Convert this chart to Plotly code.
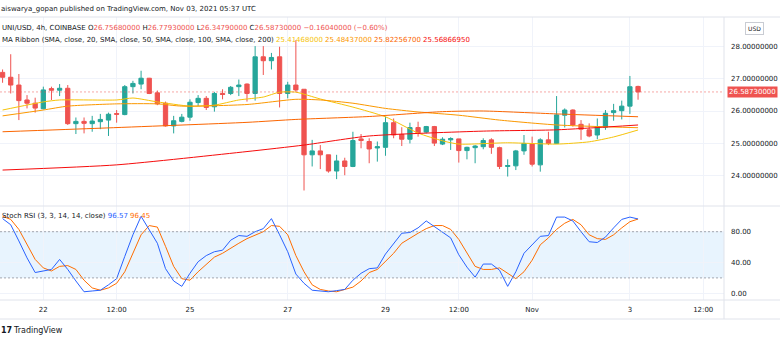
import pandas as pd
import plotly.graph_objects as go
from plotly.subplots import make_subplots

# ---------------- data ----------------
start_time = "2021-10-21 04:00"
n_candles = 79

opens = [27.19, 27.04, 26.80, 26.34, 26.24, 26.07, 26.69, 26.64, 26.70, 25.61,
         25.68, 25.61, 25.67, 25.72, 25.92, 25.89, 26.75, 26.83, 27.01, 26.56,
         26.24, 25.54, 25.68, 25.81, 26.26, 26.39, 26.13, 26.54, 26.54, 26.75,
         26.83, 26.54, 27.67, 27.55, 27.67, 26.54, 26.80, 26.67, 24.65, 24.77,
         24.65, 24.15, 24.46, 24.29, 25.14, 25.06, 24.86, 24.88, 25.64, 25.28,
         25.13, 25.49, 25.35, 25.52, 24.98, 25.11, 25.14, 24.78, 24.87, 24.90,
         25.11, 24.87, 24.29, 24.31, 24.77, 24.98, 24.34, 25.11, 25.00, 25.87,
         26.03, 25.59, 25.42, 25.26, 25.50, 25.95, 26.01, 26.15, 26.7568]
highs = [27.28, 27.75, 27.14, 26.49, 26.41, 26.75, 26.75, 26.83, 26.80, 25.80,
         25.80, 25.85, 25.91, 25.95, 26.03, 26.80, 26.93, 27.24, 27.02, 26.63,
         26.29, 25.85, 25.91, 26.36, 26.49, 26.46, 26.59, 26.67, 26.77, 26.97,
         26.85, 28.00, 28.00, 27.79, 27.98, 26.90, 28.18, 26.67, 25.11, 24.95,
         24.65, 24.65, 24.56, 25.36, 25.29, 25.16, 25.06, 25.83, 25.77, 25.50,
         25.64, 25.67, 25.54, 25.54, 25.19, 25.19, 25.14, 24.90, 24.95, 25.16,
         25.16, 24.90, 24.51, 24.80, 25.26, 25.21, 25.16, 25.36, 26.46, 26.08,
         26.05, 25.72, 25.62, 25.77, 26.03, 26.22, 26.32, 27.08, 26.7793]
lows = [26.87, 26.54, 25.72, 26.08, 25.95, 26.05, 26.34, 26.46, 25.57, 25.29,
        25.31, 25.36, 25.44, 25.23, 25.64, 25.87, 26.54, 26.67, 26.52, 26.18,
        25.52, 25.31, 25.65, 25.70, 26.15, 26.03, 25.98, 26.36, 26.49, 26.46,
        26.29, 26.32, 27.11, 27.28, 26.11, 26.39, 26.59, 23.55, 24.29, 24.21,
        24.10, 23.90, 24.02, 24.27, 24.85, 24.39, 24.44, 24.62, 25.16, 24.92,
        25.00, 25.21, 25.31, 24.92, 24.95, 24.80, 24.41, 24.51, 24.39, 24.82,
        24.68, 24.21, 23.98, 24.18, 24.65, 24.29, 24.13, 24.95, 24.98, 25.49,
        25.52, 25.11, 25.19, 25.13, 25.42, 25.70, 25.74, 25.91, 26.3479]
closes = [27.04, 26.80, 26.32, 26.24, 26.09, 26.65, 26.64, 26.70, 25.61, 25.68,
          25.62, 25.69, 25.74, 25.90, 25.90, 26.75, 26.85, 27.01, 26.54, 26.22,
          25.54, 25.70, 25.81, 26.27, 26.39, 26.11, 26.54, 26.51, 26.73, 26.80,
          26.54, 27.67, 27.55, 27.65, 26.54, 26.80, 26.65, 24.65, 24.77, 24.65,
          24.15, 24.46, 24.29, 25.09, 25.09, 24.83, 24.90, 25.64, 25.26, 25.13,
          25.49, 25.33, 25.52, 25.01, 25.13, 25.15, 24.78, 24.88, 24.92, 25.09,
          24.88, 24.29, 24.32, 24.77, 25.00, 24.36, 25.11, 25.00, 25.88, 26.03,
          25.57, 25.44, 25.23, 25.52, 25.93, 26.01, 26.15, 26.7477, 26.5873]

# moving-average ribbon, read at selected candle indices
sma20_idx = [0, 5, 7, 14, 16, 19, 23, 26, 29, 32, 34, 36, 39, 43, 47, 51, 54, 56, 62, 68, 72, 75, 78]
sma20_val = [26.03, 26.28, 26.34, 26.34, 26.40, 26.28, 26.15, 26.18, 26.34, 26.43, 26.58, 26.58,
             26.37, 26.12, 25.82, 25.32, 25.08, 24.98, 25.02, 24.98, 25.05, 25.20, 25.41468]
sma50_idx = [0, 5, 8, 14, 19, 22, 30, 36, 39, 43, 47, 51, 56, 61, 68, 78]
sma50_val = [25.85, 26.03, 26.15, 26.22, 26.22, 26.15, 26.20, 26.36, 26.34, 26.24, 26.08,
             25.97, 25.87, 25.72, 25.57, 25.48437]
sma100_idx = [0, 12, 30, 36, 45, 54, 59, 68, 78]
sma100_val = [25.36, 25.47, 25.65, 25.74, 25.83, 25.98, 26.00, 25.91, 25.822567]
sma200_idx = [0, 14, 30, 37, 45, 59, 68, 78]
sma200_val = [24.18, 24.34, 24.75, 24.95, 25.23, 25.38, 25.42, 25.5686695]

stoch_k = [97, 89, 68, 46, 27, 29, 31, 44, 31, 16, 2, 3, 4, 11, 19, 48, 76, 100, 83, 65,
           32, 16, 9, 26, 41, 49, 54, 56, 69, 75, 74, 80, 84, 97, 76, 54, 25, 13, 4, 3,
           2, 3.5, 5, 17, 26, 32, 33, 51, 65, 78, 79, 85, 94, 87, 80, 72, 50, 34, 21, 38,
           38, 30, 9, 28, 52, 63, 74, 75, 99, 99, 94, 80, 67, 66, 73, 85, 96, 99, 96.57]
stoch_d = [100, 96, 83, 63, 44, 33, 29, 35, 36, 31, 17, 7, 4, 7, 13, 28, 53, 76, 88, 86,
           61, 35, 19, 17, 28, 38, 47, 52, 59, 65, 71, 76, 80, 88, 87, 76, 49, 28, 11, 5,
           3, 2, 5, 8, 16, 27, 31, 41, 52, 65, 72, 78, 84, 88, 88, 83, 70, 52, 35, 31,
           31, 33, 26, 19, 28, 43, 63, 72, 83, 91, 96, 89, 76, 71, 70, 76, 85, 93, 96.45]

time_tick_vals = ["2021-10-22 00:00", "2021-10-23 12:00", "2021-10-25 00:00", "2021-10-27 00:00",
                  "2021-10-29 00:00", "2021-10-30 12:00", "2021-11-01 00:00", "2021-11-03 00:00",
                  "2021-11-04 12:00"]
time_tick_text = ["22", "12:00", "25", "27", "29", "12:00", "Nov", "3", "12:00"]
price_ticks = [24, 25, 26, 27, 28]
stoch_ticks = [0, 40, 80]

# ---------------- styling ----------------
W, H = 780, 343
ML, MR, MT, MB = 0, 56, 17, 43
PW, PH = W - ML - MR, H - MT - MB
FONT = "DejaVu Sans"
FS = 7
TXT = "#131722"
UP, DOWN = "#26a69a", "#ef5350"
MA_COLORS = ["#f6c309", "#fb9800", "#fb6500", "#f60c0c"]
K_COL, D_COL = "#2962ff", "#ff6d00"
SEP = "#e0e3eb"
GRID = "#f0f3fa"


def px(x):
    return (x - ML) / PW


def py(y):
    return (H - MB - y) / PH


times = pd.date_range(start_time, periods=n_candles, freq="4h")

fig = make_subplots(rows=2, cols=1, shared_xaxes=True, vertical_spacing=0,
                    row_heights=[189, 94])

fig.add_trace(go.Candlestick(
    x=times, open=opens, high=highs, low=lows, close=closes,
    increasing=dict(line=dict(color=UP, width=1), fillcolor=UP),
    decreasing=dict(line=dict(color=DOWN, width=1), fillcolor=DOWN),
    whiskerwidth=0, hoverinfo="skip", showlegend=False), row=1, col=1)

for idx, val, col in [(sma20_idx, sma20_val, MA_COLORS[0]), (sma50_idx, sma50_val, MA_COLORS[1]),
                      (sma100_idx, sma100_val, MA_COLORS[2]), (sma200_idx, sma200_val, MA_COLORS[3])]:
    fig.add_trace(go.Scatter(x=times[idx], y=val, mode="lines",
                             line=dict(color=col, width=1, shape="spline", smoothing=0.6),
                             hoverinfo="skip", showlegend=False), row=1, col=1)

fig.add_trace(go.Scatter(x=times, y=stoch_d, mode="lines", line=dict(color=D_COL, width=1),
                         hoverinfo="skip", showlegend=False), row=2, col=1)
fig.add_trace(go.Scatter(x=times, y=stoch_k, mode="lines", line=dict(color=K_COL, width=1),
                         hoverinfo="skip", showlegend=False), row=2, col=1)

x_range = [pd.Timestamp("2021-10-21 02:44"), pd.Timestamp("2021-11-04 22:12")]

fig.update_xaxes(range=x_range, tickvals=time_tick_vals, ticktext=time_tick_text,
                 showgrid=True, gridcolor=GRID, gridwidth=1, zeroline=False, showline=False,
                 ticks="", rangeslider_visible=False, tickfont=dict(family=FONT, size=FS, color=TXT))
fig.update_xaxes(showticklabels=False, row=1, col=1)
fig.update_xaxes(showticklabels=True, ticklabelstandoff=4, row=2, col=1)

fig.update_yaxes(side="right", range=[23.072, 28.897], tickvals=price_ticks, tickformat=".8f",
                 showgrid=True, gridcolor=GRID, zeroline=False, ticks="", ticklabelstandoff=6,
                 tickfont=dict(family=FONT, size=FS, color=TXT), row=1, col=1)
fig.update_yaxes(side="right", range=[-8.7, 113.4], tickvals=stoch_ticks, tickformat=".2f",
                 showgrid=True, gridcolor=GRID, zeroline=False, ticks="", ticklabelstandoff=6,
                 tickfont=dict(family=FONT, size=FS, color=TXT), row=2, col=1)

shapes = []
xr = W / PW
for yy in [17, 206, 300, 319]:
    shapes.append(dict(type="line", xref="paper", yref="paper", x0=0, x1=xr, y0=py(yy), y1=py(yy),
                       line=dict(color=SEP, width=1)))
shapes.append(dict(type="line", xref="paper", yref="paper", x0=1, x1=1, y0=py(319), y1=py(17),
                   line=dict(color=SEP, width=1)))
# last price line
shapes.append(dict(type="line", xref="paper", yref="y", x0=0, x1=1, y0=closes[-1], y1=closes[-1],
                   line=dict(color="rgba(239,83,80,0.5)", width=1, dash="2px,2px")))
# stoch band
shapes.append(dict(type="rect", xref="paper", yref="y2", x0=0, x1=1, y0=20, y1=80,
                   fillcolor="rgba(33,150,243,0.10)", line=dict(width=0), layer="below"))
for lv in [20, 80]:
    shapes.append(dict(type="line", xref="paper", yref="y2", x0=0, x1=1, y0=lv, y1=lv,
                       line=dict(color="#a3a6af", width=1, dash="2px,2px")))

chg = closes[-1] - closes[-2]
pct = chg / closes[-2] * 100


def fmt_signed(v, f):
    s = format(abs(v), f)
    return ("\u2212" + s) if v < 0 else ("+" + s)


def red(s):
    return f"<span style='color:{DOWN}'>{s}</span>"


row1 = (f"UNI/USD, 4h, COINBASE O{red(format(opens[-1], '.8f'))} H{red(format(highs[-1], '.8f'))} "
        f"L{red(format(lows[-1], '.8f'))} C{red(format(closes[-1], '.8f'))} "
        f"{red(fmt_signed(chg, '.8f') + ' (' + fmt_signed(pct, '.2f') + '%)')}")
ma_last = [sma20_val[-1], sma50_val[-1], sma100_val[-1], sma200_val[-1]]
row2 = "MA Ribbon (SMA, close, 20, SMA, close, 50, SMA, close, 100, SMA, close, 200) " + " ".join(
    f"<span style='color:{c}'>{v:.8f}</span>" for c, v in zip(MA_COLORS, ma_last))
row3 = (f"Stoch RSI (3, 3, 14, 14, close) <span style='color:{K_COL}'>{stoch_k[-1]:.2f}</span> "
        f"<span style='color:{D_COL}'>{stoch_d[-1]:.2f}</span>")

anns = []


def ann(x, y, text, size=FS, xanchor="left", **kw):
    d = dict(xref="paper", yref="paper", x=px(x), y=py(y), text=text, showarrow=False,
             xanchor=xanchor, yanchor="middle", font=dict(family=FONT, size=size, color=TXT))
    d.update(kw)
    anns.append(d)


ann(-1, 9, "aiswarya_gopan published on TradingView.com, Nov 03, 2021 05:37 UTC")
ann(0, 28, row1)
ann(0, 40, row2)
ann(0, 216, row3)
ann(754, 28, "USD", size=6, xanchor="center", bordercolor="#c9ccd3", borderwidth=1, borderpad=2,
    bgcolor="white")
ann(-1, 331, "<b>17</b>", size=8)
ann(11, 331, "TradingView", size=8)
anns.append(dict(xref="paper", yref="y", x=px(752), y=closes[-1], text=f"{closes[-1]:.8f}",
                 showarrow=False, xanchor="center", yanchor="middle", bgcolor=DOWN, borderpad=1,
                 font=dict(family=FONT, size=FS, color="white")))

fig.update_layout(width=W, height=H, margin=dict(l=ML, r=MR, t=MT, b=MB),
                  paper_bgcolor="white", plot_bgcolor="white", showlegend=False,
                  shapes=shapes, annotations=anns, hovermode=False, boxgap=0.25,
                  font=dict(family=FONT, size=FS, color=TXT))

fig.write_html("out.html")
